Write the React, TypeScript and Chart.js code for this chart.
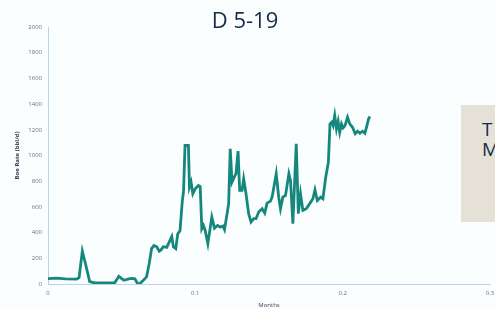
import React, { useEffect, useRef } from "react";
import { Chart, registerables } from "chart.js";

Chart.register(...registerables);

const months: number[] = [
  0.0, 0.0058, 0.0119, 0.0194, 0.0211, 0.0233, 0.0256, 0.0283, 0.0317, 0.0385,
  0.0453, 0.0481, 0.0515, 0.0549, 0.0567, 0.059, 0.0608, 0.0624, 0.0644, 0.0669,
  0.0687, 0.0703, 0.0719, 0.0738, 0.0755, 0.0767, 0.0783, 0.0806, 0.0828, 0.084,
  0.0851, 0.0867, 0.0881, 0.0896, 0.0912, 0.092, 0.093, 0.0953, 0.096, 0.0971,
  0.0983, 0.0999, 0.1021, 0.1033, 0.1044, 0.1055, 0.1067, 0.1085, 0.1112, 0.113,
  0.1151, 0.1169, 0.1187, 0.1198, 0.1219, 0.1226, 0.1237, 0.1249, 0.1264, 0.1276,
  0.129, 0.1301, 0.1317, 0.1328, 0.1344, 0.1362, 0.1378, 0.1396, 0.1412, 0.143,
  0.1453, 0.1471, 0.1487, 0.151, 0.1521, 0.1549, 0.1566, 0.1578, 0.1594, 0.1612,
  0.1635, 0.1646, 0.1662, 0.1685, 0.1699, 0.1714, 0.173, 0.1753, 0.1783, 0.1798,
  0.1812, 0.1828, 0.1851, 0.1866, 0.1885, 0.1903, 0.1914, 0.1926, 0.1935, 0.1946,
  0.1958, 0.1969, 0.198, 0.1992, 0.2003, 0.2016, 0.2033, 0.2048, 0.2067, 0.2085,
  0.2101, 0.2117, 0.2135, 0.2151, 0.2162, 0.2176, 0.2185,
];

const boeRate: number[] = [
  42, 45, 40, 38, 50, 255, 150, 18, 8, 8,
  10, 60, 29, 40, 44, 40, 2, 5, 25, 55,
  160, 275, 300, 290, 255, 265, 290, 285, 340, 370,
  290, 275, 390, 415, 650, 720, 1078, 1078, 754, 793,
  702, 741, 767, 759, 430, 456, 417, 314, 521, 435,
  456, 443, 451, 423, 573, 625, 1052, 793, 831, 858,
  1034, 728, 728, 819, 702, 547, 482, 508, 508, 560,
  586, 552, 629, 645, 676, 858, 676, 586, 676, 689,
  858, 806, 469, 1091, 547, 702, 573, 586, 637, 663,
  733, 650, 676, 663, 831, 948, 1246, 1259, 1233, 1311,
  1207, 1266, 1181, 1246, 1215, 1233, 1298, 1246, 1220, 1169,
  1189, 1173, 1189, 1173, 1220, 1285, 1303,
];

const xTicks: number[] = [0, 0.1, 0.2, 0.3];
const yTicks: number[] = [0, 200, 400, 600, 800, 1000, 1200, 1400, 1600, 1800, 2000];

const chartTitle = "D 5-19";
const sideLines = ["T", "M"];
const xTitle = "Months";
const yTitle = "Boe Rate (bbl/d)";

export default function App() {
  const canvasRef = useRef<HTMLCanvasElement | null>(null);

  useEffect(() => {
    document.body.style.margin = "0";
    const canvas = canvasRef.current;
    if (!canvas) return;
    const tickColor = "#6b6f7a";
    const axisColor = "#bcd2ea";
    const chart = new Chart(canvas, {
      type: "line",
      data: {
        datasets: [
          {
            data: months.map((m, i) => ({ x: m, y: boeRate[i] })),
            borderColor: "#16877c",
            borderWidth: 2.8,
            pointRadius: 0,
            tension: 0,
            fill: false,
          },
        ],
      },
      options: {
        animation: false,
        responsive: false,
        maintainAspectRatio: false,
        layout: { padding: { top: 27, right: 50, bottom: 0, left: 0 } },
        plugins: { legend: { display: false }, tooltip: { enabled: false } },
        scales: {
          x: {
            type: "linear",
            min: 0,
            max: 0.3,
            afterBuildTicks: (s: any) => {
              s.ticks = xTicks.map((v) => ({ value: v }));
            },
            afterFit: (s: any) => {
              s.height = 25;
            },
            grid: { display: false, drawTicks: false },
            border: { display: true, color: axisColor, width: 1 },
            ticks: {
              padding: 6,
              color: tickColor,
              font: { size: 6, family: "Open Sans" },
              maxRotation: 0,
              callback: (v: any) => String(v),
            },
            title: {
              display: true,
              text: xTitle,
              color: "#3a4050",
              font: { size: 6, family: "Open Sans" },
              padding: 0,
            },
          },
          y: {
            type: "linear",
            min: 0,
            max: 2000,
            afterBuildTicks: (s: any) => {
              s.ticks = yTicks.map((v) => ({ value: v }));
            },
            afterFit: (s: any) => {
              s.width = 48;
            },
            grid: { display: false, drawTicks: false },
            border: { display: true, color: axisColor, width: 1 },
            ticks: {
              padding: 6,
              color: tickColor,
              font: { size: 6, family: "Open Sans" },
              callback: (v: any) => String(v),
            },
            title: {
              display: true,
              text: yTitle,
              color: "#3a4050",
              font: { size: 6, family: "Open Sans", weight: "bold" },
              padding: { top: 14, bottom: 0 },
            },
          },
        },
      },
    } as any);
    return () => chart.destroy();
  }, []);

  return (
    <div
      style={{
        position: "fixed",
        left: 0,
        top: 0,
        width: 495,
        height: 309,
        overflow: "hidden",
        background: "#fbfefe",
      }}
    >
      <canvas
        ref={canvasRef}
        width={540}
        height={309}
        style={{ position: "absolute", left: 0, top: 0, width: 540, height: 309 }}
      />
      <div
        style={{
          position: "absolute",
          left: 0,
          width: 490,
          top: 3,
          textAlign: "center",
          fontFamily: "Open Sans",
          fontSize: 22,
          color: "#17294a",
          lineHeight: "32px",
        }}
      >
        {chartTitle}
      </div>
      <div
        style={{
          position: "absolute",
          left: 461,
          top: 105,
          width: 60,
          height: 117,
          background: "#e5e1d7",
        }}
      >
        <div
          style={{
            position: "absolute",
            left: 21,
            top: 14,
            fontFamily: "Open Sans",
            fontSize: 19,
            lineHeight: "20px",
            color: "#17294a",
          }}
        >
          {sideLines.map((l, i) => (
            <div key={i}>{l}</div>
          ))}
        </div>
      </div>
    </div>
  );
}
